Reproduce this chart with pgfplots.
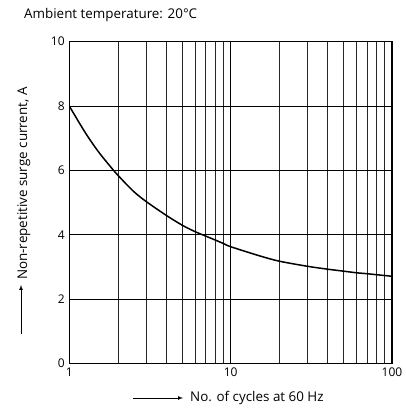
\documentclass[border=0pt]{standalone}
\usepackage{fontspec}
\setmainfont{Open Sans}
\usepackage{pgfplots}
\pgfplotsset{compat=1.18}
\begin{document}
\fontsize{13.4}{15}\selectfont
\begin{tikzpicture}[x=1pt,y=1pt]
\begin{axis}[
    at={(69.3pt,45.5pt)}, anchor=south west,
    scale only axis,
    width=322.7pt, height=321.8pt,
    xmode=log,
    xmin=1, xmax=100,
    ymin=0, ymax=10,
    xtick={1,10,100},
    xticklabels={1,10,100},
    ytick={0,2,4,6,8,10},
    minor xtick={2,3,4,5,6,7,8,9,20,30,40,50,60,70,80,90},
    grid=both,
    major grid style={black, line width=0.7pt},
    minor grid style={black!85, line width=0.7pt},
    axis line style={line width=1.1pt},
    tick style={draw=none},
    tick label style={font=\fontsize{12}{14}\selectfont},
    /pgf/number format/assume math mode=true,
]
\addplot[black, line width=1.5pt, smooth] coordinates {
    (1, 8.0)
    (1.25, 7.19)
    (1.5, 6.61)
    (1.75, 6.19)
    (2, 5.85)
    (2.5, 5.35)
    (3, 5.03)
    (4, 4.60)
    (5, 4.30)
    (6, 4.10)
    (7, 3.96)
    (8, 3.84)
    (9, 3.73)
    (10, 3.63)
    (15, 3.35)
    (20, 3.18)
    (30, 3.02)
    (40, 2.93)
    (50, 2.87)
    (60, 2.82)
    (70, 2.79)
    (80, 2.76)
    (100, 2.71)
};
\end{axis}
\node[anchor=base west, inner sep=0pt] at (24,390.7) {Ambient temperature: 20°C};
\draw[-latex, line width=0.7pt] (133,11) -- (183,11);
\node[anchor=base west, inner sep=0pt] at (190,7.3) {No. of cycles at 60 Hz};
\draw[-latex, line width=0.7pt] (21,75) -- (21,124);
\node[anchor=base west, inner sep=0pt, rotate=90] at (27,129) {Non-repetitive surge current, A};
\pgfresetboundingbox
\useasboundingbox (0,0) rectangle (406,409);
\end{tikzpicture}
\end{document}
